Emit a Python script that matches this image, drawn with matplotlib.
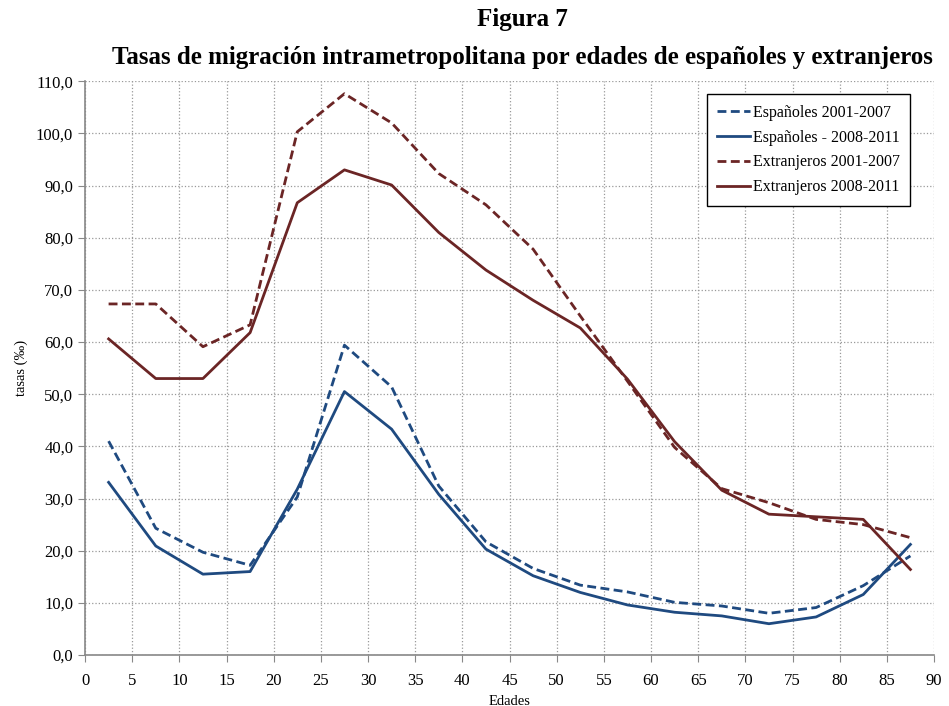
import numpy as np
import matplotlib
matplotlib.use('Agg')
import matplotlib.pyplot as plt
from matplotlib.ticker import FuncFormatter

plt.rcParams['font.family'] = ['Liberation Serif', 'DejaVu Serif']

edades = [2.5, 7.5, 12.5, 17.5, 22.5, 27.5, 32.5, 37.5, 42.5,
          47.5, 52.5, 57.5, 62.5, 67.5, 72.5, 77.5, 82.5, 87.5]

esp_0107 = [41.0, 24.3, 19.7, 17.2, 30.3, 59.4, 51.4, 32.4, 21.7,
            16.6, 13.4, 12.1, 10.1, 9.4, 8.0, 9.1, 13.3, 19.0]
esp_0811 = [33.1, 20.9, 15.5, 16.0, 31.8, 50.5, 43.3, 30.8, 20.3,
            15.2, 12.0, 9.6, 8.2, 7.5, 6.0, 7.3, 11.6, 21.2]
ext_0107 = [67.3, 67.3, 59.1, 63.3, 100.3, 107.6, 102.0, 92.3, 86.3,
            77.8, 65.0, 52.5, 39.8, 31.9, 29.2, 26.0, 25.0, 22.5]
ext_0811 = [60.6, 53.0, 53.0, 61.8, 86.7, 93.0, 90.1, 81.0, 73.8,
            68.0, 62.7, 52.9, 40.9, 31.6, 27.0, 26.5, 26.0, 16.4]

azul = '#1f4a80'
granate = '#6b2525'

fig = plt.figure(figsize=(9.49, 7.06), dpi=100)
ax = fig.add_axes([0.0896, 0.0722, 0.8946, 0.8128])

ax.plot(edades, esp_0107, '--', color=azul, lw=2, dashes=(3.2, 1.6), label='Españoles 2001-2007')
ax.plot(edades, esp_0811, '-', color=azul, lw=2, label='Españoles - 2008-2011')
ax.plot(edades, ext_0107, '--', color=granate, lw=2, dashes=(3.2, 1.6), label='Extranjeros 2001-2007')
ax.plot(edades, ext_0811, '-', color=granate, lw=2, label='Extranjeros 2008-2011')

ax.set_xlim(0, 90)
ax.set_ylim(0, 110)
ax.set_xticks(np.arange(0, 91, 5))
ax.set_yticks(np.arange(0, 111, 10))
ax.yaxis.set_major_formatter(FuncFormatter(lambda v, p: f'{v:.1f}'.replace('.', ',')))
ax.tick_params(labelsize=12, color='#888888', length=5)
ax.tick_params(axis='x', pad=8)
ax.grid(True, linestyle=':', color='#999999', lw=0.9)
for s in ['top', 'right']:
    ax.spines[s].set_visible(False)
for s in ['left', 'bottom']:
    ax.spines[s].set_color('#888888')
    ax.spines[s].set_linewidth(1.2)

ax.set_xlabel('Edades', fontsize=10.5, labelpad=4)
ax.set_ylabel('tasas (‰)', fontsize=10.5, labelpad=6)

fig.text(0.55, 0.972, 'Figura 7', ha='center', va='center',
         fontsize=18, fontweight='bold')
fig.text(0.55, 0.919, 'Tasas de migración intrametropolitana por edades de españoles y extranjeros',
         ha='center', va='center', fontsize=18, fontweight='bold')

leg = ax.legend(loc='upper right', bbox_to_anchor=(0.972, 0.977), fontsize=11.5,
                frameon=True, fancybox=False, edgecolor='black', framealpha=1,
                handlelength=2.1, handletextpad=0.15, labelspacing=0.55,
                borderpad=0.65, borderaxespad=0)
leg.get_frame().set_linewidth(1.0)

plt.savefig('out.png')
